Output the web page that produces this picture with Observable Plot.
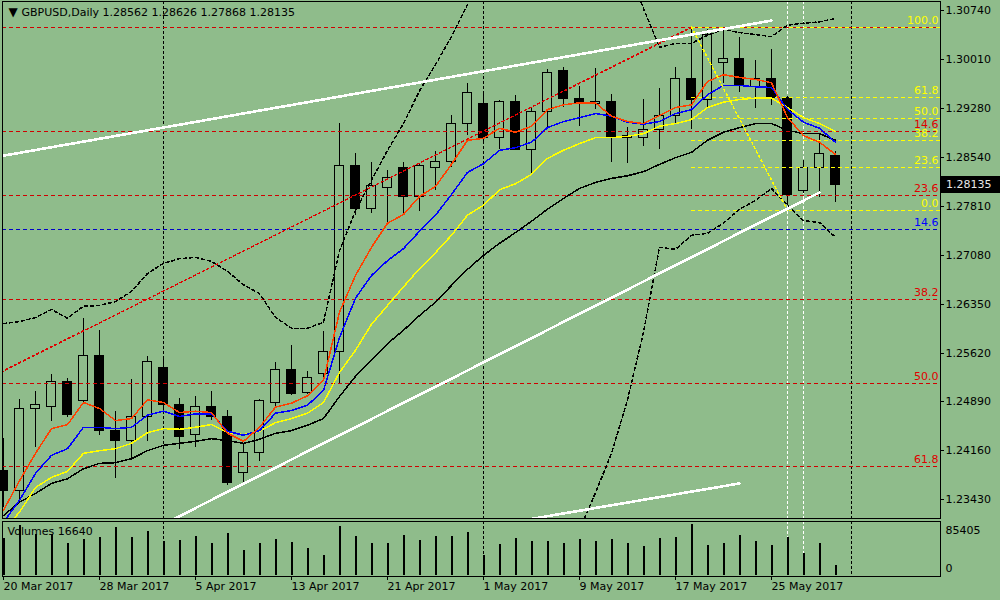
<!DOCTYPE html>
<html><head><meta charset="utf-8">
<script src="https://cdn.jsdelivr.net/npm/d3@7"></script>
<script src="https://cdn.jsdelivr.net/npm/@observablehq/plot@0.6"></script>
<style>
html,body{margin:0;padding:0;background:#8fbc8b;}
#wrap{position:relative;width:1000px;height:600px;background:#8fbc8b;overflow:hidden;font-family:"DejaVu Sans",sans-serif;}
#wrap svg{position:absolute;left:0;}
#wrap svg line, #wrap svg path, #wrap svg rect{shape-rendering:crispEdges;}
#pricebox{position:absolute;left:940px;width:60px;height:17px;background:#000;color:#e8e8e8;font:11px "DejaVu Sans";line-height:17px;box-sizing:border-box;padding-left:6px;}
</style></head><body><div id="wrap"></div>
<script>
// ---- data ----
const dates = ["2017-03-20","2017-03-21","2017-03-22","2017-03-23","2017-03-24","2017-03-27","2017-03-28","2017-03-29","2017-03-30","2017-03-31",
"2017-04-03","2017-04-04","2017-04-05","2017-04-06","2017-04-07","2017-04-10","2017-04-11","2017-04-12","2017-04-13","2017-04-14",
"2017-04-17","2017-04-18","2017-04-19","2017-04-20","2017-04-21","2017-04-24","2017-04-25","2017-04-26","2017-04-27","2017-04-28",
"2017-05-01","2017-05-02","2017-05-03","2017-05-04","2017-05-05","2017-05-08","2017-05-09","2017-05-10","2017-05-11","2017-05-12",
"2017-05-15","2017-05-16","2017-05-17","2017-05-18","2017-05-19","2017-05-22","2017-05-23","2017-05-24","2017-05-25","2017-05-26",
"2017-05-29","2017-05-30","2017-05-31"];
const open = [1.2386,1.2356,1.2478,1.2482,1.2519,1.2491,1.2558,1.2446,1.2430,1.2467,1.2540,1.2485,1.2439,1.2482,1.2467,1.2382,1.2413,1.2487,1.2537,1.2502,1.2531,1.2563,1.2841,1.2777,1.2809,1.2838,1.2795,1.2839,1.2848,1.2904,1.2934,1.2884,1.2938,1.2866,1.2923,1.2984,1.2941,1.2935,1.2938,1.2884,1.2883,1.2896,1.2917,1.2971,1.2940,1.2996,1.3001,1.2960,1.2972,1.2943,1.2804,1.2839,1.28562];
const high = [1.2434,1.2493,1.2505,1.2530,1.2524,1.2614,1.2596,1.2475,1.2522,1.2557,1.2557,1.2494,1.2497,1.2505,1.2476,1.2427,1.2493,1.2548,1.2573,1.2534,1.2594,1.2905,1.2860,1.2847,1.2835,1.2847,1.2845,1.2863,1.2917,1.2965,1.2952,1.2940,1.2947,1.2929,1.2986,1.2989,1.2960,1.2987,1.2949,1.2899,1.2941,1.2957,1.2989,1.3049,1.3046,1.3049,1.3034,1.2999,1.3016,1.2945,1.2850,1.2890,1.28626];
const low = [1.2331,1.2342,1.2421,1.2460,1.2466,1.2487,1.2439,1.2374,1.2401,1.2430,1.2476,1.2418,1.2421,1.2461,1.2364,1.2365,1.2400,1.2481,1.2499,1.2500,1.2521,1.2516,1.2768,1.2771,1.2756,1.2771,1.2774,1.2805,1.2839,1.2887,1.2875,1.2866,1.2866,1.2830,1.2899,1.2929,1.2901,1.2926,1.2847,1.2845,1.2871,1.2866,1.2905,1.2896,1.2928,1.2965,1.2952,1.2928,1.2932,1.2783,1.2801,1.2795,1.27868];
const close = [1.2355,1.2478,1.2484,1.2519,1.2470,1.2558,1.2446,1.2430,1.2467,1.2549,1.2485,1.2437,1.2482,1.2466,1.2368,1.2413,1.2490,1.2537,1.2500,1.2524,1.2564,1.2841,1.2777,1.2811,1.2823,1.2795,1.2841,1.2848,1.2904,1.2950,1.2884,1.2938,1.2866,1.2923,1.2981,1.2941,1.2934,1.2938,1.2884,1.2887,1.2896,1.2917,1.2971,1.2940,1.3037,1.3001,1.2962,1.2971,1.2943,1.2798,1.2839,1.2859,1.28135];
const volume = [61500,83700,68700,68700,53600,60300,63600,80400,63600,73700,56900,58600,65300,53600,70300,41900,53600,60300,55300,45200,33500,82100,65300,53600,53600,67000,58600,65300,65300,72000,34000,51900,62000,56900,56900,53600,60300,56900,60300,53600,48600,62000,63600,85405,50200,53600,67000,56900,50200,63600,36800,53600,16640];
// moving averages
const maRed = [1.2327,1.2371,1.2412,1.2449,1.2455,1.2488,1.2479,1.2461,1.2464,1.2492,1.2488,1.2473,1.2475,1.2473,1.2442,1.2430,1.2451,1.2481,1.2487,1.2498,1.2521,1.2623,1.2678,1.2720,1.2756,1.2769,1.2796,1.2811,1.2844,1.2880,1.2883,1.2898,1.2892,1.2901,1.2926,1.2933,1.2936,1.2936,1.2916,1.2908,1.2905,1.2917,1.2929,1.2933,1.2968,1.2978,1.2974,1.2971,1.2966,1.2914,1.2887,1.2877,1.2859];
const maBlue = [1.2309,1.2342,1.2382,1.2409,1.2419,1.2451,1.2451,1.2449,1.2451,1.2469,1.2475,1.2467,1.2471,1.2471,1.2445,1.2439,1.2446,1.2472,1.2476,1.2484,1.2506,1.2585,1.2644,1.2678,1.2700,1.2718,1.2744,1.2768,1.2799,1.2832,1.2845,1.2865,1.2869,1.2877,1.2899,1.2908,1.2914,1.2920,1.2916,1.2907,1.2904,1.2908,1.2920,1.2926,1.2948,1.2962,1.2962,1.2960,1.2959,1.2926,1.2907,1.2898,1.2877];
const maYellow = [1.2297,1.2324,1.2361,1.2376,1.2385,1.2412,1.2416,1.2419,1.2427,1.2443,1.2449,1.2448,1.2451,1.2455,1.2443,1.2440,1.2445,1.2458,1.2464,1.2472,1.2488,1.2533,1.2566,1.2605,1.2633,1.2661,1.2688,1.2712,1.2738,1.2768,1.2783,1.2806,1.2815,1.2829,1.2853,1.2865,1.2875,1.2884,1.2884,1.2886,1.2890,1.2901,1.2905,1.2911,1.2929,1.2937,1.2941,1.2943,1.2943,1.2929,1.2914,1.2905,1.2893];
const maBlack = [1.2319,1.2339,1.2352,1.2367,1.2374,1.2389,1.2397,1.2398,1.2404,1.2416,1.2424,1.2427,1.2430,1.2434,1.2431,1.2427,1.2433,1.2442,1.2446,1.2454,1.2464,1.2497,1.2527,1.2551,1.2576,1.2596,1.2618,1.2638,1.2663,1.2687,1.2708,1.2726,1.2742,1.2759,1.2777,1.2793,1.2808,1.2817,1.2823,1.2827,1.2833,1.2844,1.2854,1.2862,1.2880,1.2892,1.2899,1.2905,1.2905,1.2895,1.2890,1.2890,1.2880];
// Bollinger bands (off-chart parts estimated)
const bbUpper = [1.2606,1.2609,1.2615,1.2627,1.2614,1.2632,1.2633,1.2639,1.2654,1.2681,1.2696,1.2703,1.2705,1.2699,1.2684,1.2664,1.2651,1.2615,1.2599,1.2599,1.2608,1.2715,1.2775,1.2820,1.2865,1.2905,1.2954,1.2993,1.3035,1.3083,1.3126,1.3164,1.3194,1.3216,1.3231,1.3239,1.3231,1.3209,1.3179,1.3137,1.3077,1.3019,1.3025,1.3025,1.3037,1.3046,1.3041,1.3038,1.3035,1.3052,1.3055,1.3057,1.3062];
const bbLower = [1.2043,1.2057,1.2080,1.2102,1.2117,1.2132,1.2147,1.2155,1.2155,1.2152,1.2152,1.2150,1.2155,1.2170,1.2179,1.2189,1.2207,1.2237,1.2259,1.2274,1.2282,1.2252,1.2237,1.2229,1.2222,1.2214,1.2207,1.2199,1.2192,1.2185,1.2192,1.2207,1.2222,1.2244,1.2267,1.2282,1.2298,1.2353,1.2412,1.2492,1.2593,1.2720,1.2717,1.2738,1.2741,1.2756,1.2777,1.2790,1.2808,1.2783,1.2760,1.2757,1.2735];
// axis ticks
const priceTicks = [1.30740,1.30010,1.29280,1.28540,1.27810,1.27080,1.26350,1.25620,1.24890,1.24160,1.23430];
const tickBars = [0,6,12,18,24,30,36,42,48];
const tickLabels = ["20 Mar 2017","28 Mar 2017","5 Apr 2017","13 Apr 2017","21 Apr 2017","1 May 2017","9 May 2017","17 May 2017","25 May 2017"];
const volumeMax = 85405;
// period separators (month starts) and marker verticals
const separatorBars = [10,30,53];
const markerBars = [49,50];
// fibonacci levels
const redFibPrices = [1.3049,1.2893,1.2797,1.2642,1.2516,1.2392];
const redFibLabels = ["","14.6","23.6","38.2","50.0","61.8"];
const yellowFibPrices = [1.3049,1.2944,1.2912,1.2880,1.2840,1.2775];
const yellowFibLabels = ["100.0","61.8","50.0","38.2","23.6","0.0"];
const yellowFibStartBar = 43;
const blueFibPrices = [1.2747];
const blueFibLabels = ["14.6"];
// fib trend anchors
const redFibTrend = [{i:-46,p:1.1986},{i:43,p:1.3049}];
const yellowFibTrend = [{i:43,p:1.3049},{i:49,p:1.2775}];
// white trendlines
const trendUpper = [{i:0,p:1.2857},{i:48,p:1.3059}];
const trendLower = [{i:10,p:1.2306},{i:51,p:1.2802}];
const trendChannel = [{i:33,p:1.2314},{i:46,p:1.2367}];

// ---- build ----
const bg = "#8fbc8b";
const xDomain = [-0.0625, 58.5625];
const bars = open.map((o,i)=>({i, o, h:high[i], l:low[i], c:close[i], v:volume[i]}));
const last = bars.length - 1;
const bull = bars.filter(d=>d.c>=d.o), bear = bars.filter(d=>d.c<d.o);
const redFib = redFibPrices.map((p,k)=>({p, t:redFibLabels[k]}));
const yellowFib = yellowFibPrices.map((p,k)=>({p, t:yellowFibLabels[k]}));
const blueFib = blueFibPrices.map((p,k)=>({p, t:blueFibLabels[k]}));
const series = arr => arr.map((p,i)=>({i,p}));
const font = {fontFamily:"DejaVu Sans", fontSize:"11px"};

const main = Plot.plot({
  width:1000, height:519, marginLeft:2, marginRight:60, marginTop:1, marginBottom:1,
  style:{background:"transparent", color:"black", overflow:"visible", ...font},
  x:{type:"linear", domain:xDomain, axis:null},
  y:{type:"linear", domain:[1.23146,1.30875], axis:null},
  marks:[
    Plot.ruleX(separatorBars, {stroke:"black", strokeDasharray:"3,2"}),
    Plot.ruleX(markerBars, {stroke:"white", strokeDasharray:"3,2"}),
    Plot.ruleX(bars, {x:"i", y1:"l", y2:"h", stroke:"black"}),
    Plot.rect(bull, {x1:d=>d.i-0.3, x2:d=>d.i+0.3, y1:"o", y2:"c", fill:bg, stroke:"black"}),
    Plot.rect(bear, {x1:d=>d.i-0.3, x2:d=>d.i+0.3, y1:"o", y2:"c", fill:"black", stroke:"black"}),
    Plot.ruleY(redFib, {y:"p", stroke:"#d00000", strokeDasharray:"4,3"}),
    Plot.ruleY(blueFib, {y:"p", stroke:"#0000c8", strokeDasharray:"4,3"}),
    Plot.ruleY(yellowFib, {y:"p", x1:yellowFibStartBar, x2:xDomain[1], stroke:"#ffff00", strokeDasharray:"4,3"}),
    Plot.line(series(bbUpper), {x:"i", y:"p", stroke:"black", strokeDasharray:"3,3", clip:true}),
    Plot.line(series(bbLower), {x:"i", y:"p", stroke:"black", strokeDasharray:"3,3", clip:true}),
    Plot.line(series(maBlack), {x:"i", y:"p", stroke:"black", clip:true}),
    Plot.line(series(maYellow), {x:"i", y:"p", stroke:"#ffff00", clip:true}),
    Plot.line(series(maBlue), {x:"i", y:"p", stroke:"#0000ff", clip:true}),
    Plot.line(series(maRed), {x:"i", y:"p", stroke:"#ff4000", clip:true}),
    Plot.line(redFibTrend, {x:"i", y:"p", stroke:"#e00000", strokeDasharray:"2,3", clip:true}),
    Plot.line(yellowFibTrend, {x:"i", y:"p", stroke:"#ffff00", strokeDasharray:"2,3", clip:true}),
    Plot.line(trendUpper, {x:"i", y:"p", stroke:"white", strokeWidth:2.6, clip:true}),
    Plot.line(trendLower, {x:"i", y:"p", stroke:"white", strokeWidth:2.6, clip:true}),
    Plot.line(trendChannel, {x:"i", y:"p", stroke:"white", strokeWidth:2.6, clip:true}),
    Plot.text(yellowFib, {y:"p", text:"t", fill:"#ffff00", frameAnchor:"right", textAnchor:"end", dx:-2, dy:-7}),
    Plot.text(redFib, {y:"p", text:"t", fill:"#e00000", frameAnchor:"right", textAnchor:"end", dx:-2, dy:-7}),
    Plot.text(blueFib, {y:"p", text:"t", fill:"#0000ff", frameAnchor:"right", textAnchor:"end", dx:-2, dy:-7}),
    Plot.frame({stroke:"black"}),
    Plot.axisY({anchor:"right", ticks:priceTicks, tickFormat:d=>d.toFixed(5), tickSize:3, tickPadding:2, textAnchor:"start", label:null}),
    Plot.text(["\u25BC"], {frameAnchor:"top-left", dx:6, dy:11, fontSize:12, textAnchor:"start", lineAnchor:"middle"}),
    Plot.text(["GBPUSD,Daily"], {frameAnchor:"top-left", dx:19, dy:11, textAnchor:"start", lineAnchor:"middle"}),
    Plot.text([[open[last],high[last],low[last],close[last]].map(v=>v.toFixed(5)).join(" ")], {frameAnchor:"top-left", dx:100, dy:11, textAnchor:"start", lineAnchor:"middle"})
  ]
});

const vol = Plot.plot({
  width:1000, height:81, marginLeft:2, marginRight:60, marginTop:2, marginBottom:24,
  style:{background:"transparent", color:"black", overflow:"visible", ...font},
  x:{type:"linear", domain:xDomain, axis:null},
  y:{type:"linear", domain:[-1675, 90428], axis:null},
  marks:[
    Plot.ruleX(separatorBars, {stroke:"black", strokeDasharray:"3,2"}),
    Plot.ruleX(markerBars, {stroke:"white", strokeDasharray:"3,2"}),
    Plot.ruleX(bars, {x:"i", y1:0, y2:"v", stroke:"black", strokeWidth:2}),
    Plot.frame({stroke:"black"}),
    Plot.axisX({anchor:"bottom", ticks:tickBars, tickFormat:d=>tickLabels[tickBars.indexOf(d)], tickSize:4, tickPadding:2, textAnchor:"start", label:null}),
    Plot.text([volumeMax], {y:d=>d, text:d=>String(d), frameAnchor:"right", textAnchor:"start", dx:5, dy:6}),
    Plot.text([0], {y:d=>d, text:d=>String(d), frameAnchor:"right", textAnchor:"start", dx:5, dy:-7}),
    Plot.text([`Volumes ${volume[last]}`], {frameAnchor:"top-left", dx:5, dy:10, textAnchor:"start", lineAnchor:"middle"})
  ]
});

const wrap = document.getElementById("wrap");
main.style.top = "0px";
vol.style.top = "519px";
wrap.appendChild(main);
wrap.appendChild(vol);
const yPix = main.scale("y").apply(close[last]);
const box = document.createElement("div");
box.id = "pricebox";
box.style.top = (yPix - 8.5) + "px";
box.textContent = close[last].toFixed(5);
wrap.appendChild(box);
</script></body></html>
